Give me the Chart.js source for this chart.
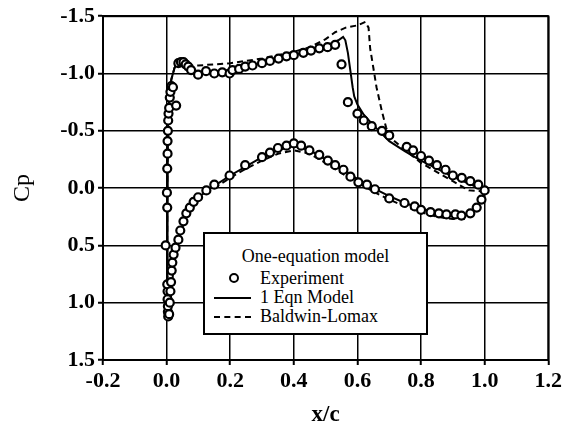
<!DOCTYPE html>
<html>
<head>
<meta charset="utf-8">
<script src="https://cdn.jsdelivr.net/npm/chart.js@4.4.1/dist/chart.umd.min.js"></script>
<style>
    html, body { margin: 0; padding: 0; background: #fff; }
    #wrap { position: relative; width: 565px; height: 431px; }
    #legendBox {
        position: absolute; left: 203px; top: 232px; width: 221px; height: 99px;
        border: 2px solid #000; background: #fff;
        font-family: 'Liberation Serif', serif; font-size: 18px; color: #000;
    }
    #legendBox .title { position: absolute; left: 0; width: 100%; top: 12px; text-align: center; line-height: 20px; }
    #legendBox .row { position: absolute; left: 55px; line-height: 18px; }
    #legendBox .mark { position: absolute; }
</style>
</head>
<body>
<div id="wrap">
    <canvas id="cpChart" width="565" height="431"></canvas>
    <div id="legendBox">
        <div class="title">One-equation model</div>
        <span class="mark" style="left:24px;top:39px;width:6px;height:6px;border:2.5px solid #000;border-radius:50%;"></span>
        <div class="row" style="top:35px">Experiment</div>
        <span class="mark" style="left:9px;top:63px;width:37px;border-top:2px solid #000;"></span>
        <div class="row" style="top:54px">1 Eqn Model</div>
        <span class="mark" style="left:9px;top:82px;width:37px;border-top:2px dashed #000;"></span>
        <div class="row" style="top:73px">Baldwin-Lomax</div>
    </div>
</div>
<script>
    // experiment, upper surface (LE -> TE)
    const expUpperX = [0.005, 0.004, 0.004, 0.003, 0.003, 0.002, -0.003, 0.002, 0.001, 0.002, 0.003, 0.003, 0.004, 0.005, 0.006, 0.008, 0.010, 0.012, 0.015, 0.020, 0.030,
        0.037, 0.045, 0.053, 0.060, 0.068, 0.077, 0.099, 0.124, 0.150, 0.175, 0.198, 0.207, 0.228, 0.247, 0.270, 0.300, 0.325, 0.352, 0.377, 0.400, 0.430, 0.454, 0.480, 0.506, 0.530,
        0.550, 0.570, 0.600, 0.620, 0.645, 0.677, 0.700, 0.755, 0.775, 0.800, 0.825, 0.850, 0.877, 0.900, 0.928, 0.955, 0.980, 1.000];
    const expUpperCp = [1.12, 1.08, 1.03, 0.97, 0.90, 0.84, 0.50, 0.17, 0.04, -0.17, -0.30, -0.41, -0.50, -0.59, -0.65, -0.70, -0.79, -0.84, -0.89, -0.88, -0.72,
        -1.09, -1.10, -1.10, -1.08, -1.06, -1.03, -0.99, -1.02, -1.00, -1.01, -1.00, -1.03, -1.04, -1.06, -1.07, -1.09, -1.11, -1.13, -1.15, -1.16, -1.18, -1.20, -1.22, -1.23, -1.25,
        -1.08, -0.75, -0.65, -0.59, -0.54, -0.50, -0.46, -0.36, -0.33, -0.28, -0.24, -0.20, -0.16, -0.11, -0.09, -0.06, -0.03, 0.02];

    // experiment, lower surface (LE -> TE)
    const expLowerX = [0.008, 0.010, 0.012, 0.014, 0.016, 0.018, 0.022, 0.028, 0.037, 0.043, 0.053, 0.062, 0.073, 0.085, 0.099, 0.125, 0.150, 0.198, 0.247, 0.300, 0.325, 0.350, 0.377, 0.400,
        0.423, 0.449, 0.480, 0.507, 0.530, 0.556, 0.578, 0.603, 0.630, 0.655, 0.700, 0.748, 0.780, 0.800, 0.830, 0.856, 0.880, 0.908, 0.927, 0.955, 0.975, 0.990];
    const expLowerCp = [1.10, 1.00, 0.90, 0.82, 0.72, 0.65, 0.58, 0.52, 0.45, 0.37, 0.29, 0.22, 0.17, 0.12, 0.08, 0.02, -0.03, -0.11, -0.20, -0.27, -0.31, -0.35, -0.37, -0.39,
        -0.37, -0.33, -0.29, -0.24, -0.20, -0.16, -0.10, -0.05, -0.03, 0.01, 0.09, 0.13, 0.16, 0.19, 0.21, 0.22, 0.23, 0.23, 0.24, 0.22, 0.17, 0.10];

    // 1 Eqn Model: TE -> upper -> LE -> lower -> TE
    const eqnX = [1.000, 0.950, 0.900, 0.850, 0.800, 0.750, 0.700, 0.646, 0.620, 0.600, 0.590, 0.585, 0.578, 0.570, 0.562, 0.555, 0.540, 0.500, 0.450, 0.400, 0.350, 0.300, 0.250, 0.200, 0.150, 0.100, 0.070, 0.050, 0.035, 0.025, 0.015, 0.008, 0.004, 0.002, 0.002, 0.003, 0.006,
        0.012, 0.020, 0.030, 0.045, 0.060, 0.080, 0.100, 0.150, 0.200, 0.250, 0.300, 0.350, 0.400, 0.450, 0.500, 0.550, 0.600, 0.650, 0.700, 0.750, 0.800, 0.850, 0.900, 0.940, 0.970, 0.990, 1.000];
    const eqnCp = [0.02, -0.04, -0.10, -0.17, -0.24, -0.32, -0.41, -0.56, -0.64, -0.73, -0.80, -0.88, -1.02, -1.18, -1.29, -1.32, -1.29, -1.24, -1.20, -1.16, -1.12, -1.09, -1.06, -1.03, -1.02, -1.01, -1.04, -1.08, -1.09, -1.05, -0.95, -0.80, -0.50, 0.00, 0.50, 1.00, 1.15,
        1.00, 0.75, 0.52, 0.38, 0.26, 0.15, 0.08, -0.02, -0.11, -0.19, -0.27, -0.33, -0.37, -0.33, -0.25, -0.16, -0.08, 0.00, 0.07, 0.13, 0.18, 0.21, 0.23, 0.23, 0.18, 0.10, 0.02];

    // Baldwin-Lomax: TE -> upper -> LE -> lower -> TE
    const blX = [1.000, 0.950, 0.900, 0.850, 0.800, 0.750, 0.700, 0.690, 0.677, 0.660, 0.650, 0.640, 0.635, 0.625, 0.600, 0.563, 0.530, 0.500, 0.450, 0.400, 0.350, 0.300, 0.250, 0.200, 0.150, 0.100, 0.070, 0.050, 0.035, 0.025, 0.015, 0.008, 0.004, 0.002, 0.002, 0.003, 0.006,
        0.012, 0.020, 0.030, 0.045, 0.060, 0.080, 0.100, 0.150, 0.200, 0.250, 0.300, 0.350, 0.400, 0.450, 0.500, 0.550, 0.600, 0.650, 0.700, 0.750, 0.800, 0.850, 0.900, 0.940, 0.970, 0.990, 1.000];
    const blCp = [0.03, 0.02, -0.06, -0.14, -0.22, -0.33, -0.45, -0.53, -0.67, -0.88, -1.05, -1.22, -1.40, -1.45, -1.42, -1.40, -1.36, -1.30, -1.23, -1.19, -1.16, -1.13, -1.11, -1.09, -1.08, -1.07, -1.07, -1.09, -1.09, -1.05, -0.95, -0.80, -0.50, 0.00, 0.50, 1.00, 1.15,
        1.00, 0.75, 0.52, 0.38, 0.26, 0.16, 0.09, 0.00, -0.09, -0.17, -0.24, -0.30, -0.33, -0.30, -0.22, -0.13, -0.05, 0.03, 0.10, 0.16, 0.21, 0.25, 0.27, 0.27, 0.22, 0.12, 0.03];

    const xTicks = [-0.2, 0.0, 0.2, 0.4, 0.6, 0.8, 1.0, 1.2];
    const yTicks = [-1.5, -1.0, -0.5, 0.0, 0.5, 1.0, 1.5];

    function toPoints(xs, ys) {
        return xs.map(function (x, i) {
            return { x: x, y: ys[i] };
        });
    }

    const frameBox = {
        id: 'frameBox',
        afterDraw: function (chart) {
            const a = chart.chartArea;
            const ctx = chart.ctx;
            ctx.save();
            ctx.strokeStyle = '#000';
            ctx.lineWidth = 2;
            ctx.setLineDash([]);
            ctx.strokeRect(a.left, a.top, a.right - a.left, a.bottom - a.top);
            ctx.restore();
        }
    };

    Chart.defaults.font.family = "'Liberation Serif', serif";
    Chart.defaults.color = '#000';

    const gridStyle = {
        color: '#000',
        lineWidth: 1.5,
        borderDash: [1.5, 2.5],
        tickLength: 5,
        tickColor: '#000',
        tickWidth: 2,
        tickBorderDash: []
    };

    new Chart(document.getElementById('cpChart'), {
        type: 'scatter',
        data: {
            datasets: [{
                label: 'Experiment',
                data: toPoints(expUpperX.concat(expLowerX), expUpperCp.concat(expLowerCp)),
                showLine: false,
                pointStyle: 'circle',
                pointRadius: 4,
                borderWidth: 2.2,
                borderColor: '#000',
                backgroundColor: '#fff',
                order: 0
            }, {
                label: '1 Eqn Model',
                data: toPoints(eqnX, eqnCp),
                showLine: true,
                pointRadius: 0,
                borderColor: '#000',
                borderWidth: 2,
                tension: 0,
                order: 2
            }, {
                label: 'Baldwin-Lomax',
                data: toPoints(blX, blCp),
                showLine: true,
                pointRadius: 0,
                borderColor: '#000',
                borderWidth: 2,
                borderDash: [6, 4],
                tension: 0,
                order: 1
            }]
        },
        options: {
            responsive: false,
            animation: false,
            layout: {
                padding: { left: 0, top: 11, right: 9, bottom: 0 }
            },
            plugins: {
                legend: { display: false },
                tooltip: { enabled: false }
            },
            scales: {
                x: {
                    type: 'linear',
                    min: -0.2,
                    max: 1.2,
                    afterBuildTicks: function (scale) {
                        scale.ticks = xTicks.map(function (v) { return { value: v }; });
                    },
                    afterFit: function (scale) {
                        scale.height = 71;
                    },
                    ticks: {
                        font: { size: 22, weight: 'bold' },
                        padding: 3,
                        maxRotation: 0,
                        callback: function (value) {
                            return Number(value).toFixed(1);
                        }
                    },
                    grid: gridStyle,
                    border: { display: true, color: '#000', width: 2 },
                    title: {
                        display: true,
                        text: 'x/c',
                        font: { size: 23, weight: 'bold' },
                        padding: { top: 0, bottom: 2 }
                    }
                },
                y: {
                    type: 'linear',
                    reverse: true,
                    min: -1.5,
                    max: 1.5,
                    afterBuildTicks: function (scale) {
                        scale.ticks = yTicks.map(function (v) { return { value: v }; });
                    },
                    afterFit: function (scale) {
                        scale.width = 103;
                    },
                    ticks: {
                        font: { size: 22, weight: 'bold' },
                        padding: 3,
                        callback: function (value) {
                            return Number(value).toFixed(1);
                        }
                    },
                    grid: gridStyle,
                    border: { display: true, color: '#000', width: 2 },
                    title: {
                        display: true,
                        text: 'Cp',
                        font: { size: 24 },
                        padding: { top: 8, bottom: 0 }
                    }
                }
            }
        },
        plugins: [frameBox]
    });
</script>
</body>
</html>
